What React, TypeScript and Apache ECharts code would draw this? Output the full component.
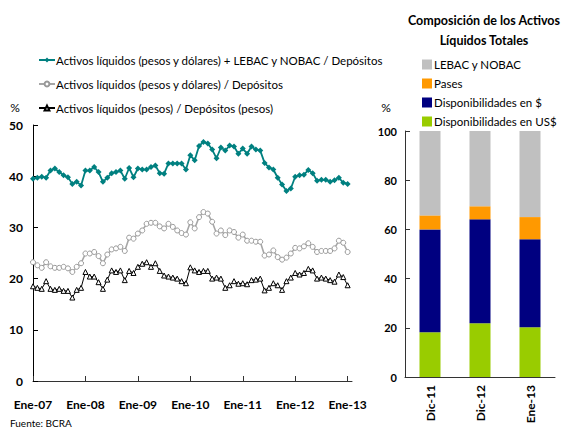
import React, { useEffect, useRef } from "react";
import * as echarts from "echarts";

const FONT = 'Lato, "Open Sans", sans-serif';

const monthNames = ["Ene", "Feb", "Mar", "Abr", "May", "Jun", "Jul", "Ago", "Sep", "Oct", "Nov", "Dic"];
const years = ["07", "08", "09", "10", "11", "12", "13"];
// Jan-07 .. Feb-13 (last category only extends the axis)
const months: string[] = [];
years.forEach((y) => monthNames.forEach((m) => months.push(`${m}-${y}`)));
const categories = months.slice(0, 74);

const seriesNames = [
  "Activos líquidos (pesos y dólares) + LEBAC y NOBAC / Depósitos",
  "Activos líquidos (pesos y dólares) / Depósitos",
  "Activos líquidos (pesos) / Depósitos (pesos)",
];

const totalConLebac = [
  39.5, 39.7, 39.9, 39.7, 41.1, 41.5, 40.8, 40.2, 39.8, 38.5, 38.9, 38.2,
  41.1, 41.1, 41.8, 40.8, 38.9, 39.7, 40.6, 40.8, 41.1, 39.5, 41.6, 39.8,
  41.5, 41.3, 41.3, 41.8, 42.1, 40.6, 40.5, 42.5, 42.5, 42.5, 42.5, 41.3,
  44.1, 43.1, 45.9, 46.7, 46.4, 45.2, 43.5, 45.6, 45.0, 46.0, 45.8, 44.4,
  45.4, 44.4, 45.8, 45.2, 45.0, 42.6, 41.7, 41.3, 39.7, 38.4, 37.1, 37.6,
  39.9, 40.2, 40.3, 41.2, 40.6, 39.1, 39.3, 39.3, 38.9, 39.2, 39.7, 38.7,
  38.5,
];

const totalPesosDolares = [
  23.2, 22.6, 22.1, 23.2, 22.4, 22.1, 22.1, 22.3, 22.0, 21.3, 22.3, 23.0,
  24.9, 24.9, 25.2, 24.4, 23.0, 24.7, 25.7, 25.9, 26.2, 25.4, 28.0, 27.8,
  28.8, 29.4, 30.7, 30.9, 30.9, 30.2, 29.8, 30.7, 30.1, 29.4, 28.9, 28.6,
  31.0, 29.8, 32.0, 33.0, 32.7, 31.1, 28.8, 29.4, 28.5, 29.4, 29.1, 28.0,
  28.6, 27.4, 27.4, 27.2, 27.2, 24.5, 24.7, 25.5, 24.2, 23.7, 24.1, 24.9,
  26.0, 25.9, 26.3, 26.9, 26.2, 25.2, 25.4, 25.4, 25.4, 25.9, 27.4, 27.0,
  25.2,
];

const soloPesos = [
  18.5, 18.2, 18.0, 19.5, 18.0, 17.8, 18.0, 17.6, 17.6, 16.3, 17.8, 18.2,
  21.3, 20.4, 20.4, 19.3, 18.0, 19.8, 21.6, 21.3, 21.6, 19.7, 21.5, 21.1,
  22.3, 22.9, 23.2, 22.3, 23.0, 21.5, 20.6, 20.4, 20.2, 20.0, 19.5, 19.1,
  22.2, 21.6, 21.3, 21.5, 21.5, 20.0, 20.2, 20.0, 18.2, 18.7, 19.5, 19.0,
  19.1, 18.9, 19.7, 19.8, 20.0, 17.7, 18.2, 19.1, 18.7, 17.8, 19.5, 20.2,
  21.1, 20.8, 21.1, 21.9, 21.6, 20.0, 20.2, 20.0, 19.7, 19.4, 20.8, 20.3,
  18.7,
];

const leftTicks = [0, 10, 20, 30, 40, 50];

const barCategories = ["Dic-11", "Dic-12", "Ene-13"];
const barNames = ["LEBAC y NOBAC", "Pases", "Disponibilidades en $", "Disponibilidades en US$"];
const dispUSD = [18.2, 21.8, 20.2];
const dispPesos = [41.8, 42.3, 35.8];
const pases = [5.7, 5.3, 9.0];
const lebacNobac = [34.3, 30.6, 35.0];
const rightTicks = [0, 20, 40, 60, 80, 100];

export default function App() {
  const ref = useRef<HTMLDivElement>(null);
  useEffect(() => {
    if (!ref.current) return;
    const chart = echarts.init(ref.current, undefined, { renderer: "svg" });
    const axisLabelBold = { fontFamily: FONT, fontWeight: "bold" as const, fontSize: 12, color: "#000" };
    chart.setOption({
      animation: false,
      backgroundColor: "#fff",
      textStyle: { fontFamily: FONT },
      grid: [
        { left: 33, top: 125, width: 319, height: 256 },
        { left: 405, top: 131, width: 150, height: 246 },
      ],
      legend: [
        {
          orient: "vertical",
          left: 33,
          top: 48,
          itemWidth: 16,
          itemHeight: 6,
          itemGap: 10,
          data: seriesNames,
          textStyle: { fontFamily: FONT, fontSize: 11.5, color: "#000", lineHeight: 14, padding: [0, 0, 0, -4] },
        },
        {
          orient: "vertical",
          left: 417,
          top: 53,
          itemWidth: 10,
          itemHeight: 10,
          itemGap: 6,
          icon: "rect",
          data: barNames,
          textStyle: { fontFamily: FONT, fontSize: 11.5, color: "#000", lineHeight: 13, padding: [0, 0, 0, -3] },
        },
      ],
      xAxis: [
        {
          gridIndex: 0,
          type: "category",
          boundaryGap: false,
          data: categories,
          axisLine: { lineStyle: { color: "#333", width: 1 } },
          axisTick: { inside: true, length: 5, interval: (i: number) => i % 12 === 0, lineStyle: { color: "#333" } },
          axisLabel: { ...axisLabelBold, interval: (i: number) => i % 12 === 0, margin: 17 },
          splitLine: { show: false },
        },
        {
          gridIndex: 1,
          type: "category",
          data: barCategories,
          axisLine: { lineStyle: { color: "#333", width: 1 } },
          axisTick: { show: false },
          axisLabel: { ...axisLabelBold, rotate: 90, margin: 8 },
        },
      ],
      yAxis: [
        {
          gridIndex: 0,
          type: "value",
          min: leftTicks[0],
          max: leftTicks[leftTicks.length - 1],
          interval: 10,
          axisLine: { show: true, lineStyle: { color: "#000", width: 1 } },
          axisTick: { show: true, inside: true, length: 5, lineStyle: { color: "#000" } },
          axisLabel: { ...axisLabelBold, margin: 10 },
          splitLine: { show: false },
        },
        {
          gridIndex: 1,
          type: "value",
          min: rightTicks[0],
          max: rightTicks[rightTicks.length - 1],
          interval: 20,
          axisLine: { show: true, lineStyle: { color: "#333", width: 1 } },
          axisTick: { show: true, inside: true, length: 5, lineStyle: { color: "#333" } },
          axisLabel: { ...axisLabelBold, fontSize: 11, margin: 8 },
          splitLine: { show: false },
        },
      ],
      graphic: [
        { type: "text", x: 15, y: 107, style: { text: "%", fontFamily: FONT, fontSize: 12, fill: "#000", textAlign: "center", textVerticalAlign: "middle" } },
        { type: "text", x: 386, y: 107, style: { text: "%", fontFamily: FONT, fontSize: 12, fill: "#000", textAlign: "center", textVerticalAlign: "middle" } },
        { type: "text", x: 484, y: 20, style: { text: "Composición de los Activos", fontFamily: FONT, fontWeight: "bold", fontSize: 12.5, fill: "#000", textAlign: "center", textVerticalAlign: "middle" } },
        { type: "text", x: 484, y: 40, style: { text: "Líquidos Totales", fontFamily: FONT, fontWeight: "bold", fontSize: 12.5, fill: "#000", textAlign: "center", textVerticalAlign: "middle" } },
        { type: "text", x: 10, y: 423, style: { text: "Fuente: BCRA", fontFamily: FONT, fontSize: 10, fill: "#000", textAlign: "left", textVerticalAlign: "middle" } },
      ],
      series: [
        {
          name: seriesNames[0],
          type: "line",
          xAxisIndex: 0,
          yAxisIndex: 0,
          data: totalConLebac,
          symbol: "diamond",
          symbolSize: 6,
          showAllSymbol: true,
          lineStyle: { color: "#008080", width: 1.8 },
          itemStyle: { color: "#008080" },
        },
        {
          name: seriesNames[1],
          type: "line",
          xAxisIndex: 0,
          yAxisIndex: 0,
          data: totalPesosDolares,
          symbol: "circle",
          symbolSize: 5,
          showAllSymbol: true,
          lineStyle: { color: "#a6a6a6", width: 1.6 },
          itemStyle: { color: "#fff", borderColor: "#999", borderWidth: 1 },
        },
        {
          name: seriesNames[2],
          type: "line",
          xAxisIndex: 0,
          yAxisIndex: 0,
          data: soloPesos,
          symbol: "triangle",
          symbolSize: 5,
          showAllSymbol: true,
          lineStyle: { color: "#000", width: 1 },
          itemStyle: { color: "#fff", borderColor: "#000", borderWidth: 1 },
        },
        {
          name: barNames[3],
          type: "bar",
          xAxisIndex: 1,
          yAxisIndex: 1,
          stack: "comp",
          barWidth: 21,
          data: dispUSD,
          itemStyle: { color: "#99cc00" },
        },
        {
          name: barNames[2],
          type: "bar",
          xAxisIndex: 1,
          yAxisIndex: 1,
          stack: "comp",
          barWidth: 21,
          data: dispPesos,
          itemStyle: { color: "#000080" },
        },
        {
          name: barNames[1],
          type: "bar",
          xAxisIndex: 1,
          yAxisIndex: 1,
          stack: "comp",
          barWidth: 21,
          data: pases,
          itemStyle: { color: "#ff9900" },
        },
        {
          name: barNames[0],
          type: "bar",
          xAxisIndex: 1,
          yAxisIndex: 1,
          stack: "comp",
          barWidth: 21,
          data: lebacNobac,
          itemStyle: { color: "#c0c0c0" },
        },
      ],
    });
    return () => chart.dispose();
  }, []);
  return (
    <div
      ref={ref}
      style={{ position: "fixed", left: 0, top: 0, width: 567, height: 430, background: "#fff" }}
    />
  );
}
